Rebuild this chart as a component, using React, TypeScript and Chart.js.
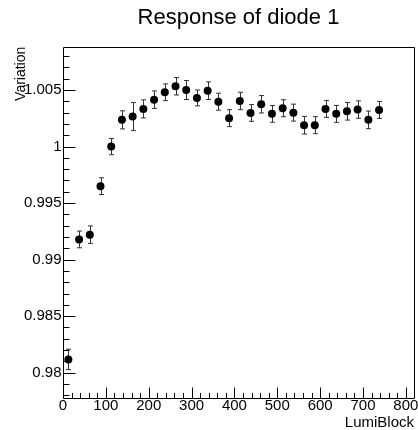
import React, { useEffect, useRef } from 'react';
import { Chart, registerables } from 'chart.js';

Chart.register(...registerables);

const chartTitle = 'Response of diode 1';
const xAxisTitle = 'LumiBlock';
const yAxisTitle = 'Variation';

const lumiBlocks = [
  12.5, 37.5, 62.5, 87.5, 112.5, 137.5, 162.5, 187.5, 212.5, 237.5,
  262.5, 287.5, 312.5, 337.5, 362.5, 387.5, 412.5, 437.5, 462.5, 487.5,
  512.5, 537.5, 562.5, 587.5, 612.5, 637.5, 662.5, 687.5, 712.5, 737.5,
];

const variation = [
  0.98118, 0.99179, 0.99221, 0.9965, 1.0, 1.00236, 1.00265, 1.00333, 1.00415, 1.0048,
  1.00533, 1.005, 1.0043, 1.00494, 1.00397, 1.00251, 1.00403, 1.00297, 1.00374, 1.00289,
  1.00339, 1.003, 1.00189, 1.00189, 1.00333, 1.00289, 1.00312, 1.00327, 1.00236, 1.00324,
];

const variationError = [
  0.0009, 0.00074, 0.00077, 0.00074, 0.00072, 0.0008, 0.00124, 0.0008, 0.00077, 0.00074,
  0.00077, 0.00084, 0.0007, 0.00078, 0.00075, 0.00075, 0.00077, 0.00074, 0.00077, 0.00074,
  0.00075, 0.00075, 0.00078, 0.00075, 0.00075, 0.00075, 0.00078, 0.00077, 0.00078, 0.00075,
];

const xRange = [0, 819];
const yRange = [0.97781, 1.00883];
const xMajorStep = 100;
const xMinorStep = 20;
const yMajorStep = 0.005;
const yMinorStep = 0.001;

const FONT = "'Liberation Sans', Arial, Helvetica, sans-serif";

const errorBarPlugin = {
  id: 'errorBars',
  beforeDatasetsDraw(chart: any) {
    const { ctx, scales } = chart;
    const x = scales.x;
    const y = scales.y;
    ctx.save();
    ctx.strokeStyle = '#333';
    ctx.lineWidth = 1;
    ctx.beginPath();
    lumiBlocks.forEach((lb, i) => {
      const px = Math.round(x.getPixelForValue(lb)) + 0.5;
      const top = y.getPixelForValue(variation[i] + variationError[i]);
      const bot = y.getPixelForValue(variation[i] - variationError[i]);
      ctx.moveTo(px, top);
      ctx.lineTo(px, bot);
      ctx.moveTo(px - 2.5, top);
      ctx.lineTo(px + 2.5, top);
      ctx.moveTo(px - 2.5, bot);
      ctx.lineTo(px + 2.5, bot);
    });
    ctx.stroke();
    ctx.restore();
  },
};

const framePlugin = {
  id: 'rootFrame',
  afterDraw(chart: any) {
    const { ctx, chartArea: a, scales } = chart;
    const x = scales.x;
    const y = scales.y;
    const left = Math.round(a.left) + 0.5;
    const right = Math.round(a.right) + 0.5;
    const top = Math.round(a.top) + 0.5;
    const bottom = Math.round(a.bottom) + 0.5;
    ctx.save();
    ctx.strokeStyle = '#000';
    ctx.lineWidth = 1;
    ctx.beginPath();
    ctx.rect(left, top, right - left, bottom - top);
    // x ticks
    const nx0 = Math.ceil(x.min / xMinorStep);
    const nx1 = Math.floor(x.max / xMinorStep);
    const ratioX = Math.round(xMajorStep / xMinorStep);
    for (let k = nx0; k <= nx1; k++) {
      const v = k * xMinorStep;
      if (v > 800) continue;
      const px = Math.round(x.getPixelForValue(v)) + 0.5;
      const len = k % ratioX === 0 ? 11 : 5.5;
      ctx.moveTo(px, bottom);
      ctx.lineTo(px, bottom - len);
    }
    // y ticks
    const ny0 = Math.ceil(y.min / yMinorStep - 1e-6);
    const ny1 = Math.floor(y.max / yMinorStep + 1e-6);
    const ratioY = Math.round(yMajorStep / yMinorStep);
    for (let k = ny0; k <= ny1; k++) {
      const v = k * yMinorStep;
      const py = Math.round(y.getPixelForValue(v)) + 0.5;
      const len = k % ratioY === 0 ? 12 : 6;
      ctx.moveTo(left, py);
      ctx.lineTo(left + len, py);
    }
    ctx.stroke();
    ctx.restore();
  },
};

export default function App() {
  const canvasRef = useRef<HTMLCanvasElement | null>(null);

  useEffect(() => {
    const canvas = canvasRef.current;
    if (!canvas) return;
    const points = lumiBlocks.map((lb, i) => ({ x: lb, y: variation[i] }));
    const chart = new Chart(canvas, {
      type: 'scatter',
      data: {
        datasets: [
          {
            label: 'diode 1',
            data: points,
            pointStyle: 'circle',
            pointRadius: 4,
            pointHoverRadius: 4,
            backgroundColor: '#000',
            borderColor: '#000',
            borderWidth: 0,
          },
        ],
      },
      options: {
        responsive: false,
        animation: false,
        devicePixelRatio: 1,
        events: [],
        layout: { padding: { left: 0, right: 2, top: 0, bottom: 0 } },
        plugins: {
          legend: { display: false },
          tooltip: { enabled: false },
          title: {
            display: true,
            text: chartTitle,
            fullSize: false,
            color: '#000',
            font: { family: FONT, size: 22, weight: 'normal', lineHeight: 1.2 },
            padding: { top: 5.1, bottom: 15.2 },
          },
        },
        scales: {
          x: {
            type: 'linear',
            min: xRange[0],
            max: xRange[1],
            grid: { display: false, drawTicks: false },
            border: { display: false },
            ticks: {
              stepSize: xMajorStep,
              includeBounds: false,
              autoSkip: false,
              maxRotation: 0,
              minRotation: 0,
              padding: 0.5,
              color: '#000',
              font: { family: FONT, size: 15, lineHeight: 1 },
              callback: (v: any) => String(v),
            },
            title: {
              display: true,
              text: xAxisTitle,
              align: 'end',
              color: '#000',
              font: { family: FONT, size: 15, lineHeight: 1 },
              padding: { top: 0, bottom: 0 },
            },
            afterFit: (scale: any) => {
              scale.height = 32.5;
              scale.paddingLeft = 0;
              scale.paddingRight = 0;
            },
          },
          y: {
            type: 'linear',
            min: yRange[0],
            max: yRange[1],
            grid: { display: false, drawTicks: false },
            border: { display: false },
            ticks: {
              stepSize: yMajorStep,
              includeBounds: false,
              autoSkip: false,
              padding: 1.5,
              color: '#000',
              font: { family: FONT, size: 15, lineHeight: 1 },
              callback: (v: any) => String(parseFloat(Number(v).toFixed(4))),
            },
            title: {
              display: true,
              text: yAxisTitle,
              align: 'end',
              color: '#000',
              font: { family: FONT, size: 14, lineHeight: 1.2 },
              padding: { top: 13, bottom: 0 },
            },
            afterFit: (scale: any) => {
              scale.width = 63;
              scale.paddingTop = 0;
              scale.paddingBottom = 0;
            },
          },
        },
      },
      plugins: [errorBarPlugin, framePlugin],
    });
    return () => chart.destroy();
  }, []);

  return (
    <div style={{ position: 'absolute', left: 0, top: 0, width: 418, height: 430, background: '#fff' }}>
      <canvas ref={canvasRef} width={418} height={430} style={{ display: 'block', width: 418, height: 430 }} />
    </div>
  );
}
